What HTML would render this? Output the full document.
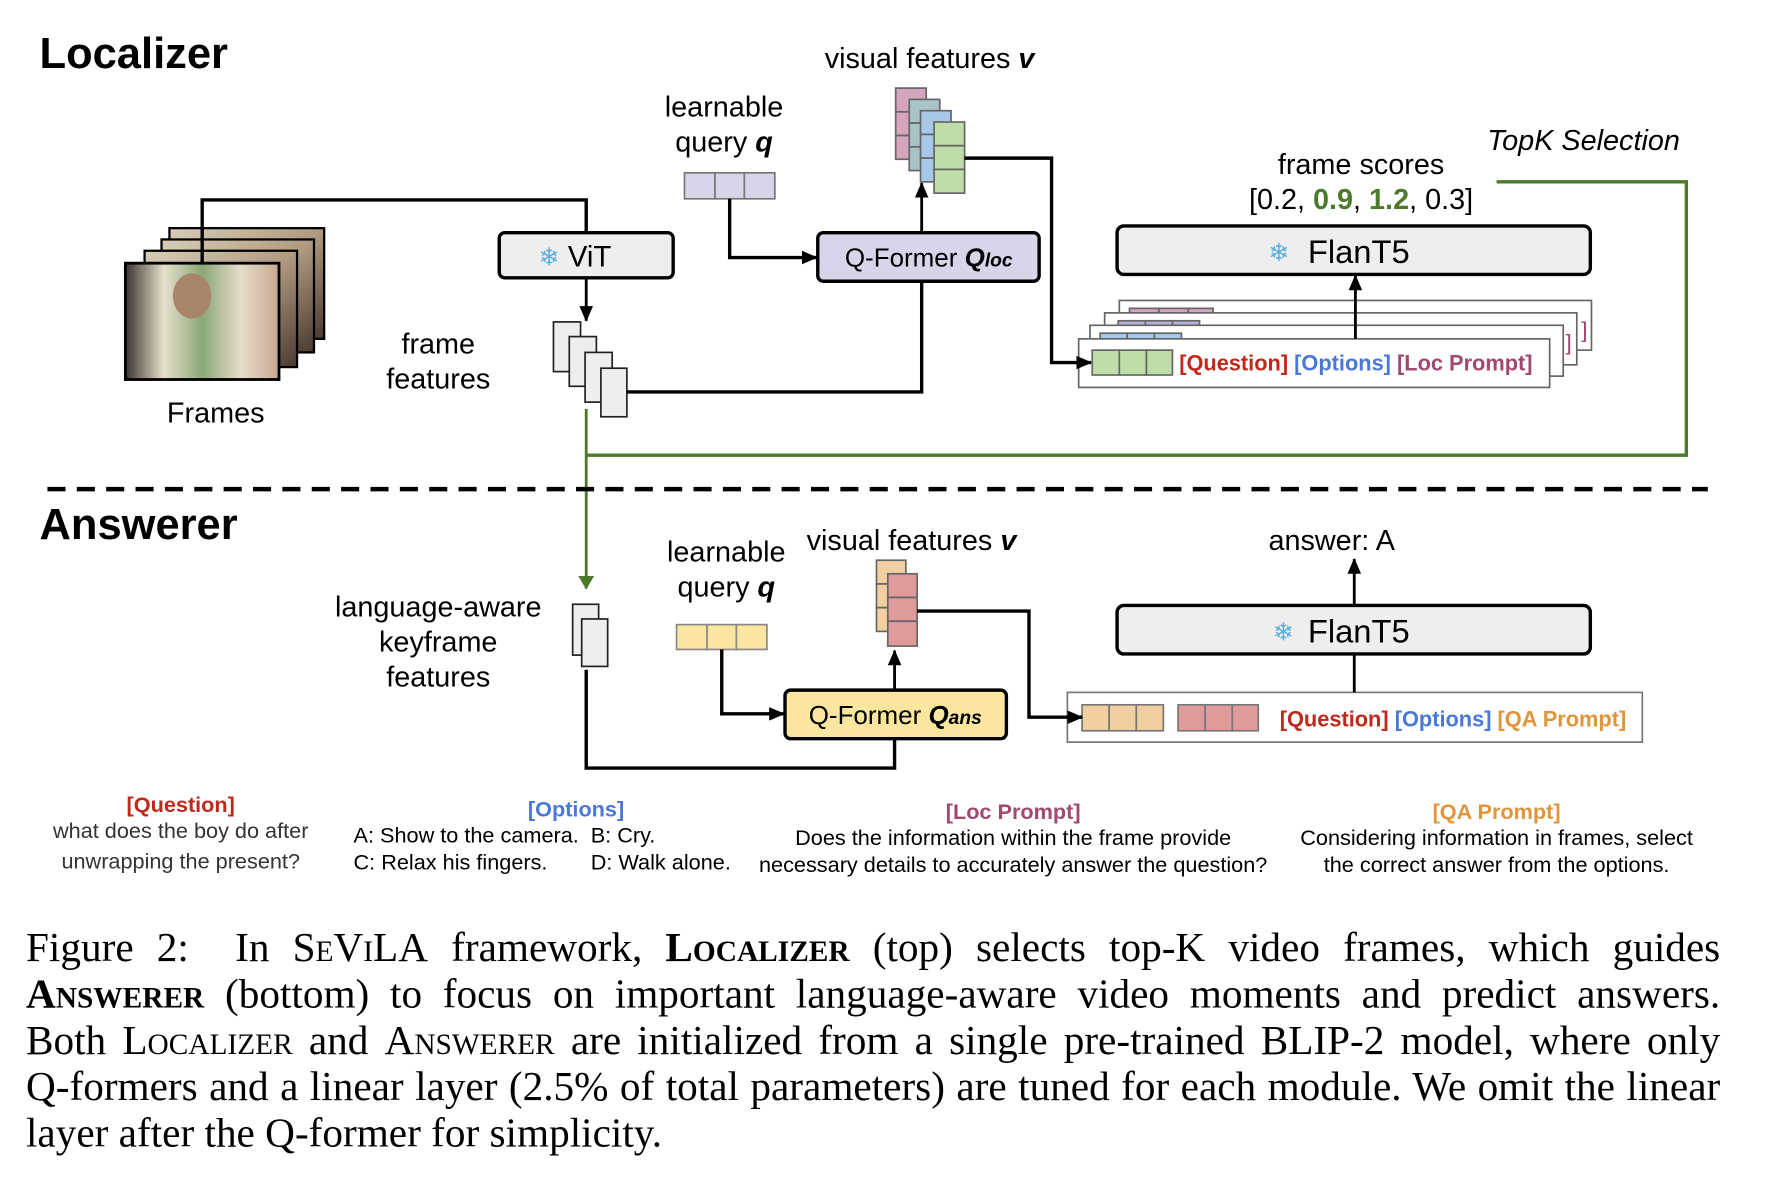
<!DOCTYPE html>
<html><head><meta charset="utf-8"><style>
html,body{margin:0;padding:0;background:#fff;width:1770px;height:1190px;overflow:hidden}
#w{position:absolute;left:0;top:0;width:1550px;height:1042px;transform:scale(1.1295);transform-origin:0 0}
svg{position:absolute;left:0;top:0}
.cap{position:absolute;left:23px;width:1500px;font-family:"Liberation Serif",serif;font-size:36.5px;line-height:41px;color:#000}
.cap div{white-space:nowrap;text-align:justify;text-align-last:justify}
.cap div.l{text-align-last:left}
.sc{font-variant:small-caps}
</style></head><body><div id="w">
<svg width="1550" height="1042" viewBox="0 0 1550 1042" font-family="Liberation Sans, DejaVu Sans, sans-serif">
<defs>
<marker id="ab" markerWidth="14" markerHeight="14" refX="13" refY="7" orient="auto" markerUnits="userSpaceOnUse"><path d="M0,1 L14,7 L0,13 z" fill="#000"/></marker>
<marker id="ag" markerWidth="12" markerHeight="16" refX="11" refY="8" orient="auto" markerUnits="userSpaceOnUse"><path d="M0,1 L12,8 L0,15 z" fill="#4a7a2a"/></marker>
<linearGradient id="ph" x1="0" y1="0" x2="1" y2="1"><stop offset="0" stop-color="#d8cfb8"/><stop offset="0.5" stop-color="#b09a80"/><stop offset="1" stop-color="#4a3a30"/></linearGradient>
<linearGradient id="ph2" x1="0" y1="0" x2="1" y2="0"><stop offset="0" stop-color="#3a3430"/><stop offset="0.25" stop-color="#e8e0cc"/><stop offset="0.5" stop-color="#8aa878"/><stop offset="0.75" stop-color="#e6dccb"/><stop offset="1" stop-color="#c8a890"/></linearGradient>
</defs>
<text x="35" y="60" font-size="38.5" font-weight="bold">Localizer</text>
<text x="35" y="477" font-size="38.5" font-weight="bold">Answerer</text>
<!-- frames -->
<rect x="150" y="202" width="137" height="98" fill="url(#ph)" stroke="#000" stroke-width="2"/>
<rect x="143" y="212" width="135" height="100" fill="url(#ph)" stroke="#000" stroke-width="2"/>
<rect x="128" y="222" width="135" height="103" fill="url(#ph)" stroke="#000" stroke-width="2"/>
<rect x="111" y="233" width="136" height="103" fill="url(#ph2)" stroke="#000" stroke-width="2.5"/>
<ellipse cx="170" cy="262" rx="17" ry="20" fill="#a88468"/>
<g font-size="25.5" text-anchor="middle">
<text x="191" y="374">Frames</text>
<text x="388" y="313">frame</text>
<text x="388" y="344">features</text>
<text x="641" y="103">learnable</text>
<text x="641" y="134">query <tspan font-weight="bold" font-style="italic">q</tspan></text>
<text x="823" y="60">visual features <tspan font-weight="bold" font-style="italic">v</tspan></text>
<text x="1205" y="154">frame scores</text>
<text x="1205" y="185">[0.2, <tspan fill="#4a7a2a" font-weight="bold">0.9</tspan>, <tspan fill="#4a7a2a" font-weight="bold">1.2</tspan>, 0.3]</text>
<text x="1402" y="133" font-style="italic">TopK Selection</text>
<text x="388" y="546">language-aware</text>
<text x="388" y="577">keyframe</text>
<text x="388" y="608">features</text>
<text x="643" y="497">learnable</text>
<text x="643" y="528">query <tspan font-weight="bold" font-style="italic">q</tspan></text>
<text x="807" y="487">visual features <tspan font-weight="bold" font-style="italic">v</tspan></text>
<text x="1179" y="487">answer: A</text>
</g>
<path d="M179,233 V177 H519 V206" fill="none" stroke="#000" stroke-width="3"/>
<!-- ViT -->
<rect x="442" y="206" width="154" height="40" rx="5" fill="#eee" stroke="#000" stroke-width="3"/>
<text x="486" y="235" font-size="22" fill="#5aaee0" text-anchor="middle" font-family="DejaVu Sans">❄</text>
<text x="522" y="236" font-size="26" text-anchor="middle">ViT</text>
<line x1="519" y1="246" x2="519" y2="284" stroke="#000" stroke-width="2.5" marker-end="url(#ab)"/>
<g fill="#eee" stroke="#222" stroke-width="1.5">
<rect x="490" y="285" width="24" height="44"/><rect x="504" y="298" width="24" height="44"/><rect x="518" y="312" width="24" height="44"/><rect x="532" y="326" width="23" height="43"/>
</g>
<path d="M555,347 H816 V250" fill="none" stroke="#000" stroke-width="3"/>
<!-- query loc -->
<g fill="#d9d4e9" stroke="#777" stroke-width="1.5"><rect x="606" y="153" width="27" height="23"/><rect x="633" y="153" width="26" height="23"/><rect x="659" y="153" width="27" height="23"/></g>
<path d="M646,176 V228 H723" fill="none" stroke="#000" stroke-width="3" marker-end="url(#ab)"/>
<rect x="724" y="206" width="196" height="43" rx="5" fill="#d9d4e9" stroke="#000" stroke-width="3"/>
<text x="748" y="236" font-size="23">Q-Former <tspan font-weight="bold" font-style="italic">Q</tspan><tspan font-weight="bold" font-style="italic" font-size="17">loc</tspan></text>
<line x1="816" y1="206" x2="816" y2="162" stroke="#000" stroke-width="2.5" marker-end="url(#ab)"/>
<!-- visual features stack -->
<g stroke="#666" stroke-width="1.5">
<rect x="793" y="78" width="27" height="21" fill="#d4a5bd"/><rect x="793" y="99" width="27" height="21" fill="#d4a5bd"/><rect x="793" y="120" width="27" height="21" fill="#d4a5bd"/>
<rect x="805" y="88" width="27" height="21" fill="#a8c4c8"/><rect x="805" y="109" width="27" height="21" fill="#a8c4c8"/><rect x="805" y="130" width="27" height="21" fill="#a8c4c8"/>
<rect x="815" y="98" width="27" height="21" fill="#a8c8ea"/><rect x="815" y="119" width="27" height="21" fill="#a8c8ea"/><rect x="815" y="140" width="27" height="21" fill="#a8c8ea"/>
<rect x="827" y="108" width="27" height="21" fill="#c0dca8"/><rect x="827" y="129" width="27" height="21" fill="#c0dca8"/><rect x="827" y="150" width="27" height="21" fill="#c0dca8"/>
</g>
<!-- green path -->
<path d="M1325,161 H1493 V403 H519" fill="none" stroke="#4a7a2a" stroke-width="3"/>
<line x1="519" y1="362" x2="519" y2="521" stroke="#4a7a2a" stroke-width="2.5" marker-end="url(#ag)"/>
<!-- FlanT5 top -->
<rect x="989" y="200" width="419" height="43" rx="6" fill="#eee" stroke="#000" stroke-width="3"/>
<text x="1132" y="231" font-size="22" fill="#5aaee0" text-anchor="middle" font-family="DejaVu Sans">❄</text>
<text x="1203" y="233" font-size="29" text-anchor="middle">FlanT5</text>
<!-- prompt stack -->
<g stroke="#666" stroke-width="1.5">
<rect x="991" y="266" width="418" height="44" fill="#fff"/>
<rect x="1000" y="273" width="26" height="8" fill="#d4a5bd"/><rect x="1026" y="273" width="26" height="8" fill="#d4a5bd"/><rect x="1052" y="273" width="22" height="8" fill="#d4a5bd"/>
<rect x="978" y="277" width="418" height="46" fill="#fff"/>
<rect x="990" y="284" width="24" height="8" fill="#b8b0dc"/><rect x="1014" y="284" width="24" height="8" fill="#b8b0dc"/><rect x="1038" y="284" width="24" height="8" fill="#b8b0dc"/>
<rect x="965" y="288" width="419" height="45" fill="#fff"/>
<rect x="974" y="295" width="24" height="8" fill="#a8c8ea"/><rect x="998" y="295" width="24" height="8" fill="#a8c8ea"/><rect x="1022" y="295" width="24" height="8" fill="#a8c8ea"/>
<rect x="955" y="300" width="417" height="43" fill="#fff"/>
<rect x="967" y="310" width="24" height="22" fill="#c0dca8"/><rect x="991" y="310" width="24" height="22" fill="#c0dca8"/><rect x="1015" y="310" width="23" height="22" fill="#c0dca8"/>
</g>
<text x="1400" y="299" font-size="20" fill="#a04870">]</text>
<text x="1386" y="310" font-size="20" fill="#a04870">]</text>
<text x="1044" y="328" font-size="19.3" font-weight="bold"><tspan fill="#c0281c">[Question]</tspan> <tspan fill="#4a78d6">[Options]</tspan> <tspan fill="#a04870">[Loc Prompt]</tspan></text>
<path d="M854,140 H931 V321 H966" fill="none" stroke="#000" stroke-width="3" marker-end="url(#ab)"/>
<line x1="1200" y1="300" x2="1200" y2="244" stroke="#000" stroke-width="2.5" marker-end="url(#ab)"/>
<!-- dashed -->
<line x1="42" y1="433" x2="1512" y2="433" stroke="#000" stroke-width="4" stroke-dasharray="16,10"/>
<!-- answerer -->
<g fill="#eee" stroke="#222" stroke-width="1.5"><rect x="507" y="535" width="23" height="45"/><rect x="515" y="548" width="23" height="42"/></g>
<path d="M519,593 V680 H792 V655" fill="none" stroke="#000" stroke-width="3"/>
<g fill="#fbe6a0" stroke="#888" stroke-width="1.5"><rect x="599" y="553" width="27" height="22"/><rect x="626" y="553" width="26" height="22"/><rect x="652" y="553" width="27" height="22"/></g>
<path d="M639,575 V632 H694" fill="none" stroke="#000" stroke-width="3" marker-end="url(#ab)"/>
<rect x="695" y="611" width="196" height="43" rx="5" fill="#fbe6a0" stroke="#000" stroke-width="3"/>
<text x="716" y="641" font-size="23">Q-Former <tspan font-weight="bold" font-style="italic">Q</tspan><tspan font-weight="bold" font-style="italic" font-size="17">ans</tspan></text>
<line x1="792" y1="611" x2="792" y2="576" stroke="#000" stroke-width="2.5" marker-end="url(#ab)"/>
<g stroke="#666" stroke-width="1.5">
<rect x="776" y="496" width="26" height="21" fill="#f2cfa0"/><rect x="776" y="517" width="26" height="21" fill="#f2cfa0"/><rect x="776" y="538" width="26" height="21" fill="#f2cfa0"/>
<rect x="786" y="508" width="26" height="21" fill="#e09a9a"/><rect x="786" y="529" width="26" height="21" fill="#e09a9a"/><rect x="786" y="550" width="26" height="22" fill="#e09a9a"/>
</g>
<rect x="945" y="613" width="509" height="44" fill="#fff" stroke="#777" stroke-width="1.5"/>
<g stroke="#777" stroke-width="1.5">
<rect x="958" y="624" width="24" height="23" fill="#f2cfa0"/><rect x="982" y="624" width="24" height="23" fill="#f2cfa0"/><rect x="1006" y="624" width="24" height="23" fill="#f2cfa0"/>
<rect x="1043" y="624" width="24" height="23" fill="#e09a9a"/><rect x="1067" y="624" width="24" height="23" fill="#e09a9a"/><rect x="1091" y="624" width="23" height="23" fill="#e09a9a"/>
</g>
<path d="M812,541 H911 V635 H958" fill="none" stroke="#000" stroke-width="3" marker-end="url(#ab)"/>
<text x="1133" y="643" font-size="19.3" font-weight="bold"><tspan fill="#c0281c">[Question]</tspan> <tspan fill="#4a78d6">[Options]</tspan> <tspan fill="#e0953a">[QA Prompt]</tspan></text>
<rect x="989" y="536" width="419" height="43" rx="6" fill="#eee" stroke="#000" stroke-width="3"/>
<text x="1136" y="567" font-size="22" fill="#5aaee0" text-anchor="middle" font-family="DejaVu Sans">❄</text>
<text x="1203" y="569" font-size="29" text-anchor="middle">FlanT5</text>
<line x1="1199" y1="613" x2="1199" y2="580" stroke="#000" stroke-width="2.5"/>
<line x1="1199" y1="535" x2="1199" y2="495" stroke="#000" stroke-width="2.5" marker-end="url(#ab)"/>
<!-- legend -->
<g font-size="19.2" text-anchor="middle">
<text x="160" y="719" font-weight="bold" fill="#c0281c">[Question]</text>
<text x="160" y="742" fill="#333">what does the boy do after</text>
<text x="160" y="769" fill="#333">unwrapping the present?</text>
<text x="510" y="723" font-weight="bold" fill="#4a78d6">[Options]</text>
<text x="897" y="725" font-weight="bold" fill="#a04870">[Loc Prompt]</text>
<text x="897" y="748">Does the information within the frame provide</text>
<text x="897" y="772">necessary details to accurately answer the question?</text>
<text x="1325" y="725" font-weight="bold" fill="#e0953a">[QA Prompt]</text>
<text x="1325" y="748">Considering information in frames, select</text>
<text x="1325" y="772">the correct answer from the options.</text>
</g>
<g font-size="19.2">
<text x="313" y="746">A: Show to the camera.</text><text x="523" y="746">B: Cry.</text>
<text x="313" y="770">C: Relax his fingers.</text><text x="523" y="770">D: Walk alone.</text>
</g>
</svg>
<div class="cap" style="top:818px">
<div>Figure 2:&nbsp; In <span class="sc">SeViLA</span> framework, <b class="sc">Localizer</b> (top) selects top-K video frames, which guides</div>
<div><b class="sc">Answerer</b> (bottom) to focus on important language-aware video moments and predict answers.</div>
<div>Both <span class="sc">Localizer</span> and <span class="sc">Answerer</span> are initialized from a single pre-trained BLIP-2 model, where only</div>
<div>Q-formers and a linear layer (2.5% of total parameters) are tuned for each module. We omit the linear</div>
<div class="l">layer after the Q-former for simplicity.</div>
</div>
</div></body></html>
